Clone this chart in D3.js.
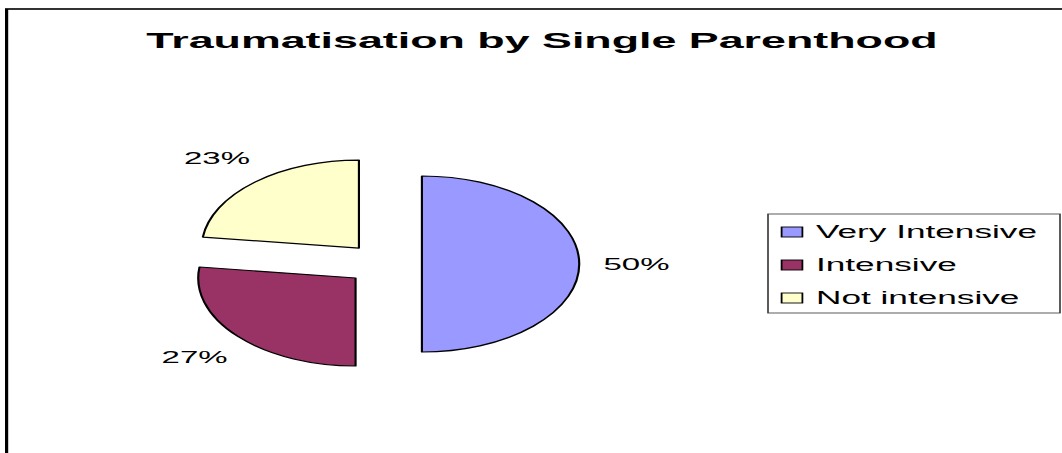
<!DOCTYPE html>
<html>
<head>
<meta charset="utf-8">
<script src="https://cdn.jsdelivr.net/npm/d3@7"></script>
<style>
	html, body { margin: 0; padding: 0; background: #fff; }
	svg { display: block; }
	text { font-family: Arial, "Liberation Sans", sans-serif; }
</style>
</head>
<body>
<div id="chart"></div>
<script>
const title = "Traumatisation by Single Parenthood";
const categories = ["Very Intensive", "Intensive", "Not intensive"];
const values = [50, 27, 23];
const sliceColors = ["#9999FF", "#993366", "#FFFFCC"];

const width = 1062;
const height = 453;
// the picture is stretched 2x horizontally, so draw in half-width units
const stretch = 2;
const vbW = width / stretch;

const pieCx = 192;
const pieCy = 264;
const radius = 88;
const squeeze = 0.894; // x squash of the pie inside the stretched view
const explode = 21.2;
const labelRadius = 120;

const color = d3.scaleOrdinal().domain(categories).range(sliceColors);
const fmtPct = (v) => d3.format(".0%")(v / d3.sum(values));

const svg = d3
	.select("#chart")
	.append("svg")
	.attr("width", width)
	.attr("height", height)
	.attr("viewBox", `0 0 ${vbW} ${height}`)
	.attr("preserveAspectRatio", "none");

svg.append("rect").attr("width", vbW).attr("height", height).attr("fill", "#fff");

// chart frame, runs off the right and bottom edge
svg
	.append("rect")
	.attr("x", 3.3)
	.attr("y", 9)
	.attr("width", vbW + 20)
	.attr("height", height + 20)
	.attr("fill", "none")
	.attr("stroke", "#000")
	.attr("stroke-width", 1.6);

svg
	.append("text")
	.attr("x", 271)
	.attr("y", 48)
	.attr("text-anchor", "middle")
	.attr("font-size", 22.4)
	.attr("font-weight", "bold")
	.attr("fill", "#000")
	.text(title);

const pie = d3.pie().sort(null).value((d) => d.value);
const arcs = pie(categories.map((c, i) => ({ label: c, value: values[i] })));
const arc = d3.arc().innerRadius(0).outerRadius(radius);

const mid = (d) => (d.startAngle + d.endAngle) / 2;

const gPie = svg
	.append("g")
	.attr("transform", `translate(${pieCx},${pieCy}) scale(${squeeze},1)`);

gPie
	.selectAll(".slice")
	.data(arcs)
	.join("path")
	.attr("class", "slice")
	.attr("transform", (d) => {
		const a = mid(d);
		return `translate(${explode * Math.sin(a)},${-explode * Math.cos(a)})`;
	})
	.attr("d", arc)
	.attr("fill", (d) => color(d.data.label))
	.attr("stroke", "#000")
	.attr("stroke-width", 1.2)
	.attr("stroke-linejoin", "round");

svg
	.selectAll(".pctLabel")
	.data(arcs)
	.join("text")
	.attr("class", "pctLabel")
	.attr("x", (d) => pieCx + squeeze * (explode + labelRadius) * Math.sin(mid(d)))
	.attr("y", (d) => pieCy - (explode + labelRadius) * Math.cos(mid(d)))
	.attr("dy", "0.36em")
	.attr("text-anchor", "middle")
	.attr("font-size", 16.5)
	.attr("fill", "#000")
	.text((d) => fmtPct(d.data.value));

// legend
const legend = svg.append("g").attr("transform", "translate(384,214)");

legend
	.append("rect")
	.attr("width", 146)
	.attr("height", 99)
	.attr("fill", "#fff")
	.attr("stroke", "#333")
	.attr("stroke-width", 0.8);

const rowY = d3.scalePoint().domain(categories).range([18, 84]);

const item = legend
	.selectAll(".item")
	.data(categories)
	.join("g")
	.attr("class", "item")
	.attr("transform", (d) => `translate(0,${rowY(d)})`);

item
	.append("rect")
	.attr("x", 6.8)
	.attr("y", -5)
	.attr("width", 10.4)
	.attr("height", 10)
	.attr("fill", (d) => color(d))
	.attr("stroke", "#000")
	.attr("stroke-width", 0.9);

item
	.append("text")
	.attr("x", 24)
	.attr("dy", "0.36em")
	.attr("font-size", 17.6)
	.attr("fill", "#000")
	.text((d) => d);
</script>
</body>
</html>
